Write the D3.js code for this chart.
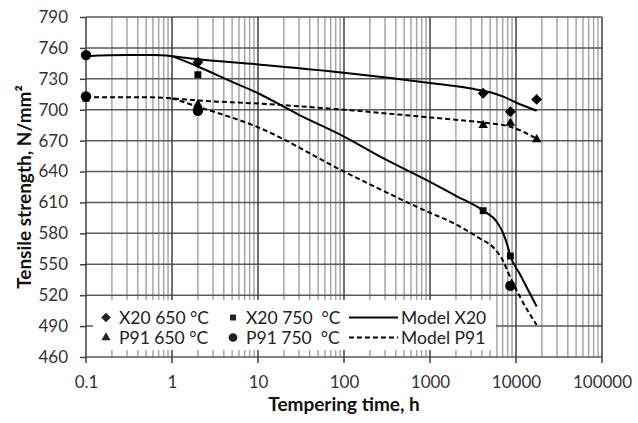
<!DOCTYPE html>
<html lang="en">
<head>
<meta charset="UTF-8">
<title>Tensile strength vs tempering time</title>
<script src="https://cdn.jsdelivr.net/npm/d3@7"></script>
<style>
  body { margin: 0; background: #fff; }
  svg text { font-family: Lato, "Open Sans", sans-serif; }
</style>
</head>
<body>
<div id="chart"></div>
<script>
// measured points
const x20_650_t = [2, 4150, 8600, 17400];
const x20_650_v = [746, 716, 698, 710];
const x20_750_t = [0.1, 2, 4150, 8600];
const x20_750_v = [711, 734, 602, 558];
const p91_650_t = [2, 4150, 8600, 17400];
const p91_650_v = [705, 685, 687, 671];
const p91_750_t = [0.1, 0.1, 2, 8600];
const p91_750_v = [753, 713, 699, 529];

// model curves
const modelX20_650_t = [0.1, 0.3, 0.6, 1, 2, 10, 100, 1000, 3000, 5000, 7000, 10000, 17400];
const modelX20_650_v = [752, 753, 753, 752, 749, 744, 736, 726, 720.5, 717, 713, 707, 699];
const modelX20_750_t = [1, 2, 5, 10, 30, 100, 300, 1000, 2000, 4150, 6000, 7100, 7900, 8600, 11000, 17400];
const modelX20_750_v = [752, 742, 727, 716, 695, 674, 652, 630, 616.5, 602, 591, 580, 569, 558, 541, 509];
const modelP91_650_t = [0.1, 0.3, 0.6, 1, 2, 10, 100, 1000, 4150, 8600, 17400];
const modelP91_650_v = [712, 712, 712, 711, 709, 706, 700, 692.5, 687.5, 683.5, 672];
const modelP91_750_t = [1, 2, 10, 100, 1000, 1870, 3800, 5500, 7100, 8100, 11100, 17400];
const modelP91_750_v = [711, 703, 683, 640, 600, 590, 575, 566, 553, 542, 518.5, 491];

const xTicks = [0.1, 1, 10, 100, 1000, 10000, 100000];
const yTicks = d3.range(460, 791, 30);

const width = 638;
const height = 423;
const marginTop = 17;
const marginRight = 36;
const marginBottom = 66;
const marginLeft = 86;

const x = d3.scaleLog()
    .domain([0.1, 100000])
    .range([marginLeft, width - marginRight]);

const y = d3.scaleLinear()
    .domain([460, 790])
    .range([height - marginBottom, marginTop]);

const svg = d3.select("#chart").append("svg")
    .attr("width", width)
    .attr("height", height);

// minor vertical grid
const minor = [];
for (let d = 0.1; d < 100000; d *= 10) {
    for (let k = 2; k <= 9; k++) minor.push(+(k * d).toPrecision(3));
}

svg.append("g")
    .attr("stroke", "#a6a6a6")
    .attr("stroke-width", 1.5)
    .selectAll("line")
    .data(minor)
    .join("line")
    .attr("x1", d => x(d)).attr("x2", d => x(d))
    .attr("y1", y(790)).attr("y2", y(460));

svg.append("g")
    .attr("stroke", "#5a5a5a")
    .attr("stroke-width", 1.5)
    .selectAll("line")
    .data(yTicks)
    .join("line")
    .attr("x1", x(0.1)).attr("x2", x(100000))
    .attr("y1", d => y(d)).attr("y2", d => y(d));

svg.append("g")
    .attr("stroke", "#404040")
    .attr("stroke-width", 1.5)
    .selectAll("line")
    .data(xTicks)
    .join("line")
    .attr("x1", d => x(d)).attr("x2", d => x(d))
    .attr("y1", y(790)).attr("y2", y(460) + 6);

// y axis ticks and labels
svg.append("g")
    .attr("transform", `translate(${marginLeft},0)`)
    .call(d3.axisLeft(y).tickValues(yTicks).tickSize(6).tickPadding(12))
    .call(g => g.select(".domain").remove())
    .call(g => g.selectAll(".tick line").attr("stroke", "#404040").attr("stroke-width", 1.5))
    .call(g => g.selectAll(".tick text")
        .attr("font-size", 17)
        .attr("fill", "#333"));

// x axis labels
svg.append("g")
    .attr("transform", `translate(0,${y(460)})`)
    .call(d3.axisBottom(x).tickValues(xTicks).tickFormat(d => String(d)).tickSize(0).tickPadding(19))
    .call(g => g.select(".domain").remove())
    .call(g => g.selectAll(".tick text")
        .attr("font-size", 17)
        .attr("fill", "#333"));

// legend box hides the grid
const legendX = 93, legendY = 300;
svg.append("rect")
    .attr("x", legendX).attr("y", legendY)
    .attr("width", 403).attr("height", 50)
    .attr("fill", "#fff");

// model lines
const line = d3.line()
    .x(d => x(d[0]))
    .y(d => y(d[1]))
    .curve(d3.curveMonotoneX);

const models = [
    {t: modelX20_650_t, v: modelX20_650_v, dash: null},
    {t: modelX20_750_t, v: modelX20_750_v, dash: null},
    {t: modelP91_650_t, v: modelP91_650_v, dash: "5,3"},
    {t: modelP91_750_t, v: modelP91_750_v, dash: "5,3"}
];

svg.append("g")
    .attr("fill", "none")
    .attr("stroke", "#000")
    .attr("stroke-width", 2)
    .selectAll("path")
    .data(models)
    .join("path")
    .attr("stroke-dasharray", d => d.dash)
    .attr("d", d => line(d.t.map((t, i) => [t, d.v[i]])));

// markers
const shapes = {
    diamond: d3.symbolDiamond2,
    square: d3.symbolSquare2,
    triangle: d3.symbolTriangle2,
    circle: d3.symbolCircle
};
const sizes = {diamond: 75, square: 60, triangle: 65, circle: 85};

const series = [
    {label: "X20 650 °C", shape: "diamond", t: x20_650_t, v: x20_650_v},
    {label: "X20 750  °C", shape: "square", t: x20_750_t, v: x20_750_v},
    {label: "P91 650 °C", shape: "triangle", t: p91_650_t, v: p91_650_v},
    {label: "P91 750  °C", shape: "circle", t: p91_750_t, v: p91_750_v}
];

series.forEach(s => {
    svg.append("g")
        .selectAll("path")
        .data(s.t.map((t, i) => [t, s.v[i]]))
        .join("path")
        .attr("fill", "#000")
        .attr("d", d3.symbol().type(shapes[s.shape]).size(sizes[s.shape]))
        .attr("transform", d => `translate(${x(d[0])},${y(d[1])})`);
});

// legend
const legend = svg.append("g").attr("font-size", 17.5).attr("fill", "#222");
const rows = [317.5, 337.5];
const cols = [106, 233];
series.forEach((s, i) => {
    const cx = cols[i % 2], cy = rows[Math.floor(i / 2)];
    legend.append("path")
        .attr("d", d3.symbol().type(shapes[s.shape]).size(s.shape === "square" ? 45 : 60))
        .attr("transform", `translate(${cx},${cy})`);
    legend.append("text")
        .attr("x", cx + 13).attr("y", cy + 6)
        .attr("xml:space", "preserve")
        .style("white-space", "pre")
        .text(s.label);
});

[{label: "Model X20", dash: null}, {label: "Model P91", dash: "5,3"}].forEach((m, i) => {
    const cy = rows[i];
    legend.append("line")
        .attr("x1", 349).attr("x2", 398)
        .attr("y1", cy).attr("y2", cy)
        .attr("stroke", "#000").attr("stroke-width", 2)
        .attr("stroke-dasharray", m.dash);
    legend.append("text")
        .attr("x", 401).attr("y", cy + 6)
        .text(m.label);
});

// axis titles
svg.append("text")
    .attr("transform", `translate(31,${(y(790) + y(460)) / 2}) rotate(-90)`)
    .attr("text-anchor", "middle")
    .attr("font-size", 19)
    .attr("font-weight", "bold")
    .attr("fill", "#111")
    .text("Tensile strength, N/mm²");

svg.append("text")
    .attr("x", 344).attr("y", 411)
    .attr("text-anchor", "middle")
    .attr("font-size", 19)
    .attr("font-weight", "bold")
    .attr("fill", "#111")
    .text("Tempering time, h");
</script>
</body>
</html>
